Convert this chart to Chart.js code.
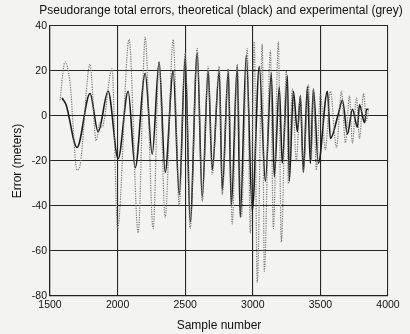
<!DOCTYPE html>
<html><head><meta charset="utf-8">
<script src="https://cdn.jsdelivr.net/npm/chart.js@4/dist/chart.umd.min.js"></script>
<style>html,body{margin:0;padding:0;background:#f3f3f1;}#wrap{width:410px;height:334px;}</style>
</head><body><div id="wrap"><canvas id="c" width="410" height="334"></canvas></div>
<script>
const title = "Pseudorange total errors, theoretical (black) and experimental (grey)";
const xTicks = [1500, 2000, 2500, 3000, 3500, 4000];
const yTicks = [-80, -60, -40, -20, 0, 20, 40];

// Theoretical (black) – extrema
const theoSample = [1589,1619,1700,1796,1856,1930,2004,2078,2130,2204,2256,2307,2352,2411,2456,2500,2537,2589,2626,2670,2700,2752,2774,2819,2841,2885,2907,2952,2996,3048,3093,3137,3159,3196,3218,3256,3270,3300,3330,3352,3374,3404,3426,3448,3485,3552,3574,3633,3663,3700,3737,3774,3789,3827,3841,3856];
const theoError  = [8,5,-14,10,-7,11,-19,11,-23,19,-17,24,-25,20,-35,26,-47,28,-36,20,-24,20,-33,20,-40,22,-45,27,-42,22,-29,19,-27,13,-21,18,-29,11,-7,9,-25,13,-21,12,-21,11,-10,1,7,-8,3,-5,5,-3,3,3];

// Experimental (grey)
const expSample = [1574,1611,1648,1700,1722,1796,1841,1870,1885,1959,2000,2085,2152,2204,2263,2307,2352,2411,2456,2500,2537,2589,2626,2670,2700,2752,2774,2819,2848,2885,2915,2959,2982,3011,3033,3070,3085,3130,3152,3189,3211,3248,3263,3293,3322,3352,3374,3411,3433,3448,3470,3500,3537,3574,3619,3656,3685,3715,3737,3767,3789,3819,3841,3856];
const expError  = [7,24,15,-24,-22,23,-11,-3,-5,21,-50,34,-52,35,-50,24,-45,34,-40,28,-50,30,-38,22,-26,22,-35,21,-48,23,-45,30,-52,33,-74,32,-69,29,-50,33,-56,20,-30,12,-20,9,-25,14,-20,12,-24,10,-15,11,-14,11,-12,9,-12,8,-10,10,-2,3];

const toPts = (xs, ys) => xs.map((x, i) => ({x: x, y: ys[i]}));
const FONT = "'Liberation Sans', Arial, sans-serif";

const titlePlugin = {
  id: 'topTitle',
  afterDraw(chart) {
    const ctx = chart.ctx;
    ctx.save();
    ctx.font = "12px " + FONT;
    ctx.fillStyle = '#111';
    ctx.textAlign = 'center';
    ctx.textBaseline = 'middle';
    ctx.fillText(title, 221, 11);
    ctx.restore();
  }
};

new Chart(document.getElementById('c'), {
  type: 'line',
  data: {
    datasets: [
      {
        label: 'experimental',
        data: toPts(expSample, expError),
        borderColor: '#777777',
        borderWidth: 1.2,
        borderDash: [1.2, 1.2],
        pointRadius: 0,
        cubicInterpolationMode: 'monotone',
        fill: false
      },
      {
        label: 'theoretical',
        data: toPts(theoSample, theoError),
        borderColor: '#1c1c1c',
        borderWidth: 1.6,
        pointRadius: 0,
        cubicInterpolationMode: 'monotone',
        fill: false
      }
    ]
  },
  plugins: [titlePlugin],
  options: {
    responsive: false,
    animation: false,
    devicePixelRatio: 1,
    layout: {padding: {left: 0, right: 22, top: 26, bottom: 0}},
    plugins: {
      legend: {display: false},
      tooltip: {enabled: false},
      title: {display: false}
    },
    scales: {
      x: {
        type: 'linear',
        min: 1500, max: 4000,
        afterBuildTicks: s => { s.ticks = xTicks.map(v => ({value: v})); },
        afterFit: s => { s.height = 38; },
        ticks: {color: '#111', font: {family: FONT, size: 10.5}, padding: 3, callback: v => String(v), maxRotation: 0},
        grid: {color: '#262626', lineWidth: 1.1, drawTicks: false},
        border: {color: '#222', width: 1.2},
        title: {display: true, text: 'Sample number', color: '#111', font: {family: FONT, size: 12}, padding: {top: 0, bottom: 1}}
      },
      y: {
        type: 'linear',
        min: -80, max: 40,
        afterBuildTicks: s => { s.ticks = yTicks.map(v => ({value: v})); },
        afterFit: s => { s.width = 50; },
        ticks: {color: '#111', font: {family: FONT, size: 10.5}, padding: 3, callback: v => String(v)},
        grid: {color: '#262626', lineWidth: 1.1, drawTicks: false},
        border: {color: '#222', width: 1.2},
        title: {display: true, text: 'Error (meters)', color: '#111', font: {family: FONT, size: 12}, padding: {top: 10, bottom: 0}}
      }
    }
  }
});
</script>
</body></html>
